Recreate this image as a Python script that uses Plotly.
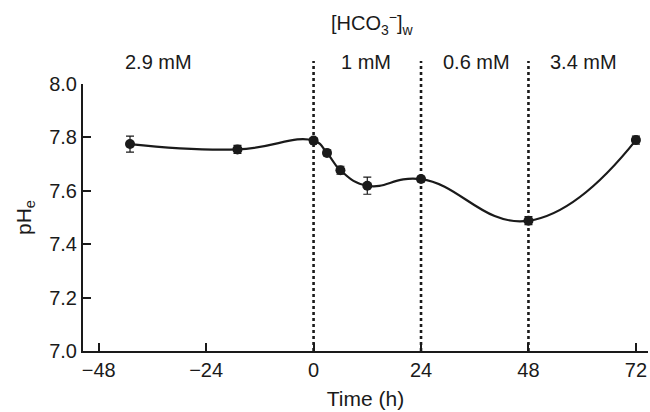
import plotly.graph_objects as go

# Data
time_h = [-41, -17, 0, 3, 6, 12, 24, 48, 72]
ph_e = [7.775, 7.755, 7.788, 7.742, 7.677, 7.619, 7.644, 7.488, 7.790]
ph_err = [0.030, 0.015, 0.010, 0.010, 0.015, 0.032, 0.010, 0.015, 0.015]

boundaries = [0, 24, 48]
period_labels = ["2.9 mM", "1 mM", "0.6 mM", "3.4 mM"]
period_label_x = [-34.7, 11.8, 36.3, 60.3]

x_ticks = [-48, -24, 0, 24, 48, 72]
y_ticks = [7.0, 7.2, 7.4, 7.6, 7.8, 8.0]

FONT = "Liberation Sans, Arial, Helvetica, sans-serif"
INK = "#1a1a1a"

fig = go.Figure()
fig.add_trace(go.Scatter(
    x=time_h, y=ph_e,
    mode="lines+markers",
    line=dict(color=INK, width=2.2, shape="spline", smoothing=1.3),
    marker=dict(color=INK, size=10),
    error_y=dict(type="data", array=ph_err, visible=True,
                 color=INK, thickness=1.2, width=4),
    showlegend=False,
    cliponaxis=False,
))

for b in boundaries:
    fig.add_shape(type="line", xref="x", yref="paper",
                  x0=b, x1=b, y0=0, y1=1.086,
                  line=dict(color=INK, width=2.6, dash="dot"),
                  layer="below")

for lab, lx in zip(period_labels, period_label_x):
    fig.add_annotation(x=lx, y=1.082, xref="x", yref="paper",
                       text=lab, showarrow=False,
                       font=dict(family=FONT, size=20, color=INK),
                       xanchor="center", yanchor="middle")

fig.add_annotation(x=0.512, y=1.225, xref="paper", yref="paper",
                   text="[HCO<sub>3</sub><sup>−</sup>]<sub>w</sub>",
                   showarrow=False,
                   font=dict(family=FONT, size=20, color=INK),
                   xanchor="center", yanchor="middle")

fig.update_layout(
    width=650, height=412,
    margin=dict(l=83, r=2, t=84, b=61),
    paper_bgcolor="white", plot_bgcolor="white",
    font=dict(family=FONT, size=20, color=INK),
)
fig.update_xaxes(
    range=[-51.5, 74.7], tickvals=x_ticks,
    ticks="inside", ticklen=8, tickwidth=1.5, tickcolor=INK,
    showline=True, linecolor=INK, linewidth=2,
    showgrid=False, zeroline=False,
    title=dict(text="Time (h)", font=dict(size=21), standoff=11),
    tickfont=dict(size=20),
)
fig.update_yaxes(
    range=[7.0, 8.0], tickvals=y_ticks, tickformat=".1f",
    ticks="inside", ticklen=8, tickwidth=1.5, tickcolor=INK,
    showline=True, linecolor=INK, linewidth=2,
    showgrid=False, zeroline=False,
    title=dict(text="pH<sub>e</sub>", font=dict(size=21), standoff=12),
    tickfont=dict(size=20),
)

fig.write_html(
    "out.html",
    config={"displayModeBar": False},
    post_script="document.body.style.margin='0';document.body.style.overflow='hidden';",
)
